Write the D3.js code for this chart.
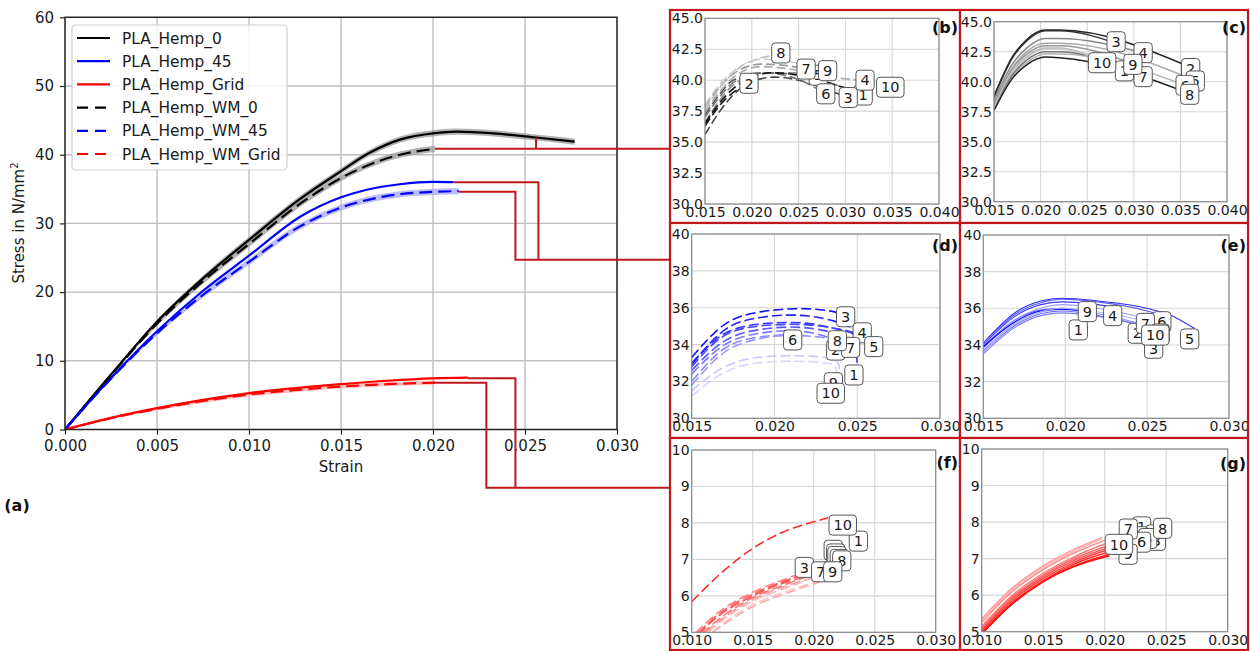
<!DOCTYPE html>
<html><head><meta charset="utf-8">
<script src="https://cdn.jsdelivr.net/npm/d3@7"></script>
<style>body{margin:0;background:#fff}svg{display:block}text{font-family:"DejaVu Sans",sans-serif}</style>
</head><body><svg id="c" width="1250" height="651"></svg>
<script>
// ---------------- DATA ----------------
const seriesNames = ["PLA_Hemp_0","PLA_Hemp_45","PLA_Hemp_Grid","PLA_Hemp_WM_0","PLA_Hemp_WM_45","PLA_Hemp_WM_Grid"];
const seriesColors = ["#000000","#0000ff","#ff0000","#000000","#0000ff","#ff0000"];
const seriesDashed = [false,false,false,true,true,true];
const bandColors = ["#9a9a9a","#9a9aff","#ff9a9a","#9a9a9a","#a8a8ff","#ffb0b0"];
const bandHalfWidth = [0.45,0.08,0.08,0.45,0.45,0.3];
const hemp0 = [[0,0],[0.0025,8.0],[0.005,15.7],[0.0075,22.0],[0.010,27.6],[0.0128,33.6],[0.015,37.6],[0.0165,40.2],[0.0182,42.2],[0.020,43.1],[0.0213,43.35],[0.0233,43.1],[0.0256,42.5],[0.0277,41.9]];
const hemp45 = [[0,0],[0.0025,7.5],[0.005,14.3],[0.0075,20.2],[0.010,25.3],[0.0128,31.0],[0.015,33.8],[0.0164,34.9],[0.0182,35.7],[0.020,36.05],[0.0211,36.0]];
const hempGrid = [[0,0],[0.0025,1.7],[0.005,3.1],[0.0075,4.3],[0.010,5.3],[0.0128,6.1],[0.015,6.6],[0.0175,7.1],[0.020,7.45],[0.0219,7.55]];
const wm0 = [[0,0],[0.0025,7.9],[0.005,15.4],[0.0075,21.6],[0.010,27.0],[0.0128,32.9],[0.015,36.6],[0.0164,38.4],[0.0182,40.0],[0.0201,40.85]];
const wm45 = [[0,0],[0.0025,7.4],[0.005,14.0],[0.0075,19.6],[0.010,24.4],[0.0128,29.6],[0.015,32.3],[0.0173,33.9],[0.020,34.6],[0.0214,34.7]];
const wmGrid = [[0,0],[0.0025,1.65],[0.005,3.0],[0.0075,4.15],[0.010,5.1],[0.0128,5.8],[0.015,6.25],[0.0175,6.6],[0.0201,6.82]];
const mainSeries = [hemp0, hemp45, hempGrid, wm0, wm45, wmGrid];
const mainXTicks = [0,0.005,0.010,0.015,0.020,0.025,0.030];
const mainYTicks = [0,10,20,30,40,50,60];

const specimenIds = ["1","2","3","4","5","6","7","8","9","10"];

// (b) PLA_Hemp_WM_0 specimens
const bColors = ["#555555","#1a1a1a","#444444","#aaaaaa","#888888","#777777","#999999","#bdbdbd","#cccccc","#111111"];
const bCurves = [
 [[0.015,37.2],[0.0165,38.8],[0.018,40.0],[0.0215,40.6],[0.025,40.4],[0.0319,38.8]],
 [[0.015,36.3],[0.0165,37.9],[0.018,39.0],[0.0197,39.75]],
 [[0.015,35.6],[0.0165,37.4],[0.018,38.8],[0.020,39.9],[0.0225,40.25],[0.025,40.0],[0.0285,39.1],[0.0303,38.6]],
 [[0.015,37.4],[0.0165,39.0],[0.018,40.2],[0.021,41.1],[0.025,40.8],[0.029,40.2],[0.0321,40.0]],
 [[0.015,36.6],[0.0165,38.3],[0.018,39.6],[0.021,40.5],[0.024,40.6],[0.0271,40.4]],
 [[0.015,37.0],[0.0165,38.6],[0.018,39.8],[0.021,40.6],[0.024,40.3],[0.0279,38.9]],
 [[0.015,37.9],[0.0165,39.4],[0.018,40.5],[0.021,41.3],[0.0235,41.2],[0.0258,40.9]],
 [[0.015,37.6],[0.0165,39.3],[0.018,40.6],[0.0205,41.7],[0.0231,42.05]],
 [[0.015,38.0],[0.0165,39.6],[0.018,40.7],[0.021,41.7],[0.024,41.5],[0.0281,40.8]],
 [[0.015,36.5],[0.0165,38.1],[0.018,39.3],[0.022,40.6],[0.026,40.3],[0.031,39.3],[0.0348,39.4]]
];
const bLabels = [[0.0319,38.8],[0.0197,39.75],[0.0303,38.6],[0.0321,40.0],[0.0271,40.4],[0.0279,38.9],[0.0258,40.9],[0.0231,42.2],[0.0281,40.77],[0.0348,39.43]];

// (c) PLA_Hemp_0 specimens
const cColors = ["#cccccc","#222222","#333333","#888888","#aaaaaa","#b0b0b0","#777777","#222222","#999999","#bbbbbb"];
const cCurves = [
 [[0.015,37.9],[0.017,40.8],[0.0185,42.0],[0.0205,42.7],[0.022,42.7],[0.029,41.0]],
 [[0.015,38.8],[0.017,42.1],[0.0185,43.5],[0.0205,44.3],[0.022,44.3],[0.0361,41.2]],
 [[0.015,38.7],[0.017,42.0],[0.0185,43.4],[0.0205,44.25],[0.022,44.25],[0.0281,43.2]],
 [[0.015,38.4],[0.017,41.5],[0.0185,42.8],[0.0205,43.6],[0.022,43.6],[0.031,42.4]],
 [[0.015,38.2],[0.017,41.2],[0.0185,42.5],[0.0205,43.2],[0.022,43.2],[0.0366,40.1]],
 [[0.015,37.7],[0.017,40.5],[0.0185,41.6],[0.0205,42.3],[0.022,42.3],[0.0355,39.7]],
 [[0.015,37.8],[0.017,40.6],[0.0185,41.8],[0.0205,42.5],[0.022,42.5],[0.031,40.4]],
 [[0.015,37.6],[0.017,40.3],[0.0185,41.4],[0.0205,42.05],[0.022,42.0],[0.036,39.0]],
 [[0.015,38.1],[0.017,41.1],[0.0185,42.3],[0.0205,43.0],[0.022,43.0],[0.0299,41.5]],
 [[0.015,37.9],[0.017,40.9],[0.0185,42.1],[0.0205,42.8],[0.022,42.8],[0.0266,41.6]]
];
const cLabels = [[0.0290,40.9],[0.0361,41.1],[0.0281,43.33],[0.0310,42.42],[0.0366,40.06],[0.0355,39.7],[0.0310,40.42],[0.0360,38.95],[0.0299,41.45],[0.0266,41.58]];

// (d) PLA_Hemp_WM_45 specimens
const dColors = ["#3333ff","#7777ff","#1111ff","#2222ff","#4444ff","#8888ff","#9999ff","#5555ff","#c8c8ff","#d6d6ff"];
const dCurves = [
 [[0.015,33.0],[0.017,34.6],[0.019,35.1],[0.021,35.2],[0.0235,34.9],[0.0249,34.5],[0.02501,32.4]],
 [[0.015,32.4],[0.017,34.0],[0.019,34.6],[0.021,34.75],[0.0232,34.4],[0.0237,33.7]],
 [[0.015,33.3],[0.017,35.1],[0.019,35.75],[0.0215,35.95],[0.0235,35.8],[0.0243,35.5]],
 [[0.015,32.9],[0.017,34.8],[0.019,35.45],[0.021,35.6],[0.0235,35.3],[0.0253,34.65]],
 [[0.015,32.8],[0.017,34.5],[0.019,35.0],[0.021,35.1],[0.0235,34.9],[0.0252,34.5],[0.026,33.9]],
 [[0.015,32.0],[0.017,33.8],[0.019,34.4],[0.0211,34.55]],
 [[0.015,31.8],[0.017,33.6],[0.019,34.3],[0.021,34.5],[0.0235,34.3],[0.0246,33.85]],
 [[0.015,32.6],[0.017,34.2],[0.019,34.8],[0.021,34.95],[0.0233,34.7],[0.0238,34.2]],
 [[0.015,31.5],[0.017,32.8],[0.019,33.3],[0.021,33.4],[0.0235,33.25],[0.0239,32.9],[0.02391,31.95]],
 [[0.015,31.2],[0.017,32.5],[0.019,33.0],[0.021,33.1],[0.0235,32.95],[0.02375,32.6],[0.02376,31.4]]
];
const dLabels = [[0.0248,32.35],[0.0237,33.7],[0.0243,35.51],[0.0253,34.64],[0.0260,33.89],[0.0211,34.25],[0.0246,33.85],[0.0238,34.21],[0.02356,31.93],[0.0234,31.36]];

// (e) PLA_Hemp_45 specimens
const eColors = ["#5555ff","#8888ff","#6b6bff","#3a3aff","#2a2aff","#5c5cff","#9f9fff","#7a7aff","#0000ff","#b5b5ff"];
const eCurves = [
 [[0.015,33.9],[0.017,35.4],[0.0185,35.9],[0.0198,36.0],[0.0208,35.85]],
 [[0.015,33.7],[0.017,35.2],[0.0185,35.8],[0.0198,35.95],[0.022,35.7],[0.0244,35.2]],
 [[0.015,33.6],[0.017,35.1],[0.0185,35.7],[0.0198,35.85],[0.022,35.6],[0.0254,34.9]],
 [[0.015,34.0],[0.017,35.6],[0.0185,36.2],[0.0198,36.35],[0.022,36.2],[0.0229,36.05]],
 [[0.015,34.1],[0.017,35.8],[0.0185,36.4],[0.0198,36.55],[0.022,36.4],[0.025,36.0],[0.0265,35.6],[0.0279,34.9]],
 [[0.015,34.0],[0.017,35.7],[0.0185,36.3],[0.0198,36.5],[0.022,36.35],[0.025,35.85],[0.0259,35.6]],
 [[0.015,33.8],[0.017,35.4],[0.0185,36.0],[0.0198,36.2],[0.022,36.0],[0.0249,35.45]],
 [[0.015,33.5],[0.017,35.0],[0.0185,35.6],[0.0198,35.75],[0.022,35.55],[0.0255,34.9]],
 [[0.015,33.9],[0.017,35.3],[0.0185,35.85],[0.0198,35.95],[0.0213,35.85]],
 [[0.015,33.6],[0.017,35.2],[0.0185,35.8],[0.0198,36.0],[0.022,35.8],[0.0255,35.2]]
];
const eLabels = [[0.0208,34.82],[0.0244,34.64],[0.0254,33.82],[0.0229,35.6],[0.0276,34.33],[0.0259,35.27],[0.0249,35.18],[0.0258,34.6],[0.02135,35.82],[0.0255,34.54]];

// (f) PLA_Hemp_WM_Grid specimens
const fColors = ["#ff6666","#ff8080","#ff4d4d","#ff9999","#ffb3b3","#ffc2c2","#ff7070","#ffa8a8","#ff5c5c","#ff2a2a"];
const fCurves = [
 [[0.0098,4.7],[0.012,5.45],[0.015,6.05],[0.018,6.45],[0.0205,6.7]],
 [[0.0095,4.7],[0.012,5.5],[0.015,6.1],[0.018,6.5],[0.020,6.75]],
 [[0.0098,4.65],[0.012,5.4],[0.015,6.0],[0.018,6.45],[0.0195,6.62]],
 [[0.0103,4.75],[0.013,5.5],[0.015,5.9],[0.018,6.3],[0.0205,6.55]],
 [[0.0105,4.75],[0.013,5.45],[0.015,5.85],[0.018,6.25],[0.020,6.5]],
 [[0.0108,4.75],[0.013,5.35],[0.015,5.75],[0.018,6.15],[0.0205,6.42]],
 [[0.0100,4.7],[0.013,5.55],[0.015,5.95],[0.018,6.35],[0.020,6.6]],
 [[0.0108,4.75],[0.013,5.3],[0.015,5.7],[0.018,6.1],[0.0205,6.38]],
 [[0.0096,4.7],[0.012,5.4],[0.015,6.0],[0.018,6.4],[0.0208,6.62]],
 [[0.010,5.84],[0.0125,6.65],[0.015,7.3],[0.0175,7.75],[0.020,8.03],[0.0212,8.14]]
];
const fLabels = [[0.02366,7.5],[0.0216,7.25],[0.01923,6.78],[0.0218,7.15],[0.0219,7.08],[0.0221,7.0],[0.02057,6.66],[0.0223,6.96],[0.02156,6.66],[0.02238,7.94]];

// (g) PLA_Hemp_Grid specimens
const gColors = ["#ff9a9a","#ff8888","#ff7777","#ff6060","#ff5050","#ff4040","#ff3030","#ff2020","#ff1010","#ffb0b0"];
const gCurves = [
 [[0.010,5.35],[0.0125,6.2],[0.015,6.8],[0.0175,7.25],[0.0198,7.58]],
 [[0.010,5.25],[0.0125,6.1],[0.015,6.7],[0.0175,7.15],[0.020,7.5]],
 [[0.010,5.15],[0.0125,6.0],[0.015,6.6],[0.0175,7.05],[0.020,7.4]],
 [[0.010,5.1],[0.0125,5.95],[0.015,6.55],[0.0175,7.0],[0.0202,7.35]],
 [[0.010,5.05],[0.0125,5.9],[0.015,6.5],[0.0175,6.95],[0.0203,7.3]],
 [[0.010,5.02],[0.0125,5.85],[0.015,6.45],[0.0175,6.9],[0.0203,7.25]],
 [[0.010,4.98],[0.0125,5.8],[0.015,6.4],[0.0175,6.85],[0.0203,7.18]],
 [[0.010,4.95],[0.0125,5.78],[0.015,6.38],[0.0175,6.8],[0.0204,7.12]],
 [[0.010,4.93],[0.0125,5.76],[0.015,6.36],[0.0175,6.78],[0.0204,7.08]],
 [[0.010,5.3],[0.0125,6.15],[0.015,6.75],[0.0175,7.2],[0.0198,7.55]]
];
const gLabels = [[0.0230,7.87],[0.0241,7.65],[0.0242,7.5],[0.0228,7.6],[0.0235,7.55],[0.0230,7.45],[0.02192,7.81],[0.02471,7.83],[0.0219,7.12],[0.02116,7.39]];

const ticks40X = [0.015,0.020,0.025,0.030,0.035,0.040];
const ticks45Y = [30,32.5,35,37.5,40,42.5,45];
const ticks30X = [0.015,0.020,0.025,0.030];
const ticks40Y = [30,32,34,36,38,40];
const ticksGX = [0.010,0.015,0.020,0.025,0.030];
const ticksGY = [5,6,7,8,9,10];

// ---------------- DRAW ----------------
const svg = d3.select("#c");
const FONT = "DejaVu Sans";
const RED = "#c0171d";

// main chart
const mx = d3.scaleLinear().domain([0,0.030]).range([65,617]);
const my = d3.scaleLinear().domain([0,60]).range([429.5,17.3]);
const main = svg.append("g");
main.append("g").selectAll("line").data(mainXTicks).join("line")
  .attr("x1",d=>mx(d)).attr("x2",d=>mx(d)).attr("y1",my(60)).attr("y2",my(0))
  .attr("stroke","#bfbfbf").attr("stroke-width",1.4);
main.append("g").selectAll("line").data(mainYTicks).join("line")
  .attr("y1",d=>my(d)).attr("y2",d=>my(d)).attr("x1",mx(0)).attr("x2",mx(0.030))
  .attr("stroke","#bfbfbf").attr("stroke-width",1.4);

svg.append("clipPath").attr("id","mclip").append("rect")
  .attr("x",mx(0)).attr("y",my(60)).attr("width",mx(0.030)-mx(0)).attr("height",my(0)-my(60));
const mline = d3.line().x(d=>mx(d[0])).y(d=>my(d[1])).curve(d3.curveMonotoneX);
const plotG = main.append("g").attr("clip-path","url(#mclip)");
mainSeries.forEach((s,i)=>{
  const area = d3.area().x(d=>mx(d[0])).y0(d=>my(d[1]-bandHalfWidth[i]*Math.min(1,d[0]/0.008))).y1(d=>my(d[1]+bandHalfWidth[i]*Math.min(1,d[0]/0.008))).curve(d3.curveMonotoneX);
  plotG.append("path").attr("d",area(s)).attr("fill",bandColors[i]).attr("opacity",0.75);
});
mainSeries.forEach((s,i)=>{
  plotG.append("path").attr("d",mline(s)).attr("fill","none")
    .attr("stroke",seriesColors[i]).attr("stroke-width",2.2)
    .attr("stroke-dasharray",seriesDashed[i]?"13,6":null);
});
main.append("rect").attr("x",mx(0)).attr("y",my(60)).attr("width",mx(0.030)-mx(0)).attr("height",my(0)-my(60))
  .attr("fill","none").attr("stroke","#222").attr("stroke-width",1.4);

const xAxis = d3.axisBottom(mx).tickValues(mainXTicks).tickFormat(d3.format(".3f")).tickSize(5).tickPadding(6);
main.append("g").attr("transform",`translate(0,${my(0)})`).call(xAxis)
  .call(g=>g.select(".domain").remove())
  .attr("font-size",15).attr("font-family",FONT)
  .call(g=>g.selectAll("line").attr("stroke","#222").attr("stroke-width",1.2))
  .call(g=>g.selectAll("text").attr("fill","#1a1a1a"));
const yAxis = d3.axisLeft(my).tickValues(mainYTicks).tickFormat(d3.format("d")).tickSize(5).tickPadding(6);
main.append("g").attr("transform",`translate(${mx(0)},0)`).call(yAxis)
  .call(g=>g.select(".domain").remove())
  .attr("font-size",15).attr("font-family",FONT)
  .call(g=>g.selectAll("line").attr("stroke","#222").attr("stroke-width",1.2))
  .call(g=>g.selectAll("text").attr("fill","#1a1a1a"));
main.append("text").attr("x",(mx(0)+mx(0.030))/2).attr("y",472).attr("text-anchor","middle")
  .attr("font-size",15).attr("fill","#1a1a1a").text("Strain");
const yl = main.append("text").attr("transform","translate(24,223) rotate(-90)").attr("text-anchor","middle")
  .attr("font-size",15).attr("fill","#1a1a1a");
yl.append("tspan").text("Stress in N/mm");
yl.append("tspan").attr("font-size",10).attr("dy",-6).text("2");

// legend
const leg = main.append("g");
leg.append("rect").attr("x",72).attr("y",25).attr("width",215).attr("height",145).attr("rx",4)
  .attr("fill","#fff").attr("fill-opacity",0.85).attr("stroke","#d0d0d0").attr("stroke-width",1.2);
seriesNames.forEach((n,i)=>{
  const yy = 38 + i*23.2;
  leg.append("line").attr("x1",77).attr("x2",110).attr("y1",yy).attr("y2",yy)
    .attr("stroke",seriesColors[i]).attr("stroke-width",2.2).attr("stroke-dasharray",seriesDashed[i]?"11,7":null);
  leg.append("text").attr("x",122).attr("y",yy).attr("dy","0.36em").attr("font-size",15.4).attr("fill","#1a1a1a").text(n);
});
svg.append("text").attr("x",17).attr("y",505).attr("dy","0.36em").attr("text-anchor","middle")
  .attr("font-size",16).attr("font-weight","bold").attr("fill","#111").text("(a)");

// callout connectors (annotation, in main data coordinates; last segment runs to panel edge)
const panelLeftEdge = 670;
const callouts = [
  {pts:[[0.0201,40.85]], toPanel:40.85},
  {pts:[[0.0256,42.5],[0.0256,40.85]]},
  {pts:[[0.0211,36.0],[0.02573,36.0],[0.02573,24.7]]},
  {pts:[[0.0214,34.6],[0.02448,34.6],[0.02448,24.7]], toPanel:24.7},
  {pts:[[0.0219,7.45],[0.02448,7.45],[0.02448,-8.47]]},
  {pts:[[0.0200,6.81],[0.0229,6.81],[0.0229,-8.47]], toPanel:-8.47}
];
callouts.forEach(c=>{
  const p = c.pts.map(d=>[mx(d[0]),my(d[1])]);
  if (c.toPanel!==undefined) p.push([panelLeftEdge,my(c.toPanel)]);
  svg.append("path").attr("d",d3.line()(p)).attr("fill","none").attr("stroke",RED).attr("stroke-width",2);
});

// sub panels
function drawPanel(p){
  const g = svg.append("g");
  const x = d3.scaleLinear().domain(p.xDomain).range([p.plot.l,p.plot.r]);
  const y = d3.scaleLinear().domain(p.yDomain).range([p.plot.b,p.plot.t]);
  g.append("rect").attr("x",p.box.x).attr("y",p.box.y).attr("width",p.box.w).attr("height",p.box.h).attr("fill","#fff");
  g.append("g").selectAll("line").data(p.xTicks).join("line")
    .attr("x1",d=>x(d)).attr("x2",d=>x(d)).attr("y1",p.plot.t).attr("y2",p.plot.b)
    .attr("stroke","#d6d6d6").attr("stroke-width",1.1);
  g.append("g").selectAll("line").data(p.yTicks).join("line")
    .attr("y1",d=>y(d)).attr("y2",d=>y(d)).attr("x1",p.plot.l).attr("x2",p.plot.r)
    .attr("stroke","#d6d6d6").attr("stroke-width",1.1);
  const id = "clip_"+p.name;
  svg.append("clipPath").attr("id",id).append("rect")
    .attr("x",p.plot.l).attr("y",p.plot.t).attr("width",p.plot.r-p.plot.l).attr("height",p.plot.b-p.plot.t);
  const line = d3.line().x(d=>x(d[0])).y(d=>y(d[1])).curve(d3.curveMonotoneX);
  g.append("g").attr("clip-path",`url(#${id})`).selectAll("path").data(p.curves).join("path")
    .attr("d",line).attr("fill","none").attr("stroke",(d,i)=>p.colors[i])
    .attr("stroke-width",p.lw).attr("stroke-dasharray",p.dash?p.dash:null);
  g.append("rect").attr("x",p.plot.l).attr("y",p.plot.t).attr("width",p.plot.r-p.plot.l).attr("height",p.plot.b-p.plot.t)
    .attr("fill","none").attr("stroke","#8a8a8a").attr("stroke-width",1.2);
  const xa = d3.axisBottom(x).tickValues(p.xTicks).tickFormat(d3.format(".3f")).tickSize(0).tickPadding(3);
  g.append("g").attr("transform",`translate(0,${p.plot.b})`).call(xa).call(s=>s.select(".domain").remove())
    .attr("font-size",14).attr("font-family",FONT).call(s=>s.selectAll("text").attr("fill","#1a1a1a"));
  const ya = d3.axisLeft(y).tickValues(p.yTicks).tickFormat(d3.format(p.yFmt)).tickSize(0).tickPadding(2);
  g.append("g").attr("transform",`translate(${p.plot.l},0)`).call(ya).call(s=>s.select(".domain").remove())
    .attr("font-size",14).attr("font-family",FONT).call(s=>s.selectAll("text").attr("fill","#1a1a1a"));
  p.labels.forEach((d,i)=>{
    const lg = g.append("g").attr("transform",`translate(${x(d[0])},${y(d[1])})`);
    const r = lg.append("rect");
    const t = lg.append("text").attr("text-anchor","middle").attr("dy","0.36em").attr("font-size",14.5).attr("fill","#1a1a1a").text(specimenIds[i]);
    const w = t.node().getComputedTextLength()+9;
    r.attr("x",-w/2).attr("y",-10).attr("width",w).attr("height",20).attr("rx",3.5)
      .attr("fill","#fff").attr("stroke","#555").attr("stroke-width",1);
  });
  g.append("rect").attr("x",p.box.x).attr("y",p.box.y).attr("width",p.box.w).attr("height",p.box.h)
    .attr("fill","none").attr("stroke",RED).attr("stroke-width",2.2);
  g.append("text").attr("x",p.box.x+p.box.w-2).attr("y",p.letterY).attr("dy","0.36em").attr("text-anchor","end")
    .attr("font-size",16).attr("font-weight","bold").attr("fill","#111").text(p.letter);
}

drawPanel({name:"b",letter:"(b)",letterY:27,box:{x:670,y:10,w:290,h:213},plot:{l:705,r:939,t:18.3,b:204},
  xDomain:[0.015,0.040],yDomain:[30,45],xTicks:ticks40X,yTicks:ticks45Y,yFmt:".1f",
  curves:bCurves,colors:bColors,labels:bLabels,lw:1.6,dash:"9,4"});
drawPanel({name:"c",letter:"(c)",letterY:27,box:{x:960,y:10,w:288,h:213},plot:{l:994,r:1227,t:21.7,b:201.7},
  xDomain:[0.015,0.040],yDomain:[30,45],xTicks:ticks40X,yTicks:ticks45Y,yFmt:".1f",
  curves:cCurves,colors:cColors,labels:cLabels,lw:1.5,dash:null});
drawPanel({name:"d",letter:"(d)",letterY:245,box:{x:670,y:223,w:290,h:215},plot:{l:691.7,r:940,t:234,b:418.3},
  xDomain:[0.015,0.030],yDomain:[30,40],xTicks:ticks30X,yTicks:ticks40Y,yFmt:"d",
  curves:dCurves,colors:dColors,labels:dLabels,lw:1.6,dash:"10,4"});
drawPanel({name:"e",letter:"(e)",letterY:245,box:{x:960,y:223,w:288,h:215},plot:{l:983.3,r:1229,t:235,b:418.3},
  xDomain:[0.015,0.030],yDomain:[30,40],xTicks:ticks30X,yTicks:ticks40Y,yFmt:"d",
  curves:eCurves,colors:eColors,labels:eLabels,lw:1.1,dash:null});
drawPanel({name:"f",letter:"(f)",letterY:462,box:{x:670,y:438,w:290,h:212},plot:{l:691.7,r:935.7,t:450,b:632.3},
  xDomain:[0.010,0.030],yDomain:[5,10],xTicks:ticksGX,yTicks:ticksGY,yFmt:"d",
  curves:fCurves,colors:fColors,labels:fLabels,lw:1.5,dash:"10,4"});
drawPanel({name:"g",letter:"(g)",letterY:463,box:{x:960,y:438,w:288,h:212},plot:{l:981.7,r:1227.7,t:449,b:631.7},
  xDomain:[0.010,0.030],yDomain:[5,10],xTicks:ticksGX,yTicks:ticksGY,yFmt:"d",
  curves:gCurves,colors:gColors,labels:gLabels,lw:1.4,dash:null});
</script></body></html>
